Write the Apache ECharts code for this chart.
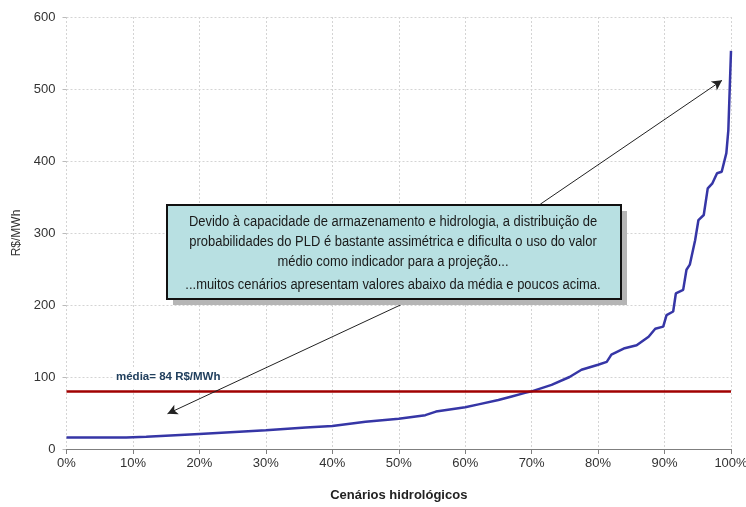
<!DOCTYPE html>
<html>
<head>
<meta charset="utf-8">
<script src="https://cdn.jsdelivr.net/npm/echarts@6/dist/echarts.min.js"></script>
<style>
  html, body { margin: 0; padding: 0; background: #fff; }
  #main { width: 746px; height: 507px; }
</style>
</head>
<body>
<div id="main"></div>
<script>
// cenarios hidrologicos (% acumulado) x PLD (R$/MWh)
var cenarios = [0, 9, 12, 20, 30, 36, 40, 45, 50, 54, 55.6, 60, 62, 65, 67, 69, 70, 73, 75.7, 77.5, 80, 81.3, 82, 84, 85.8, 87.6, 88.6, 89.8, 90.3, 91.3, 91.7, 92.8, 93.3, 93.8, 94.6, 95.1, 95.9, 96.5, 97.2, 97.9, 98.6, 99.3, 99.6, 99.85, 100];
var pld = [16, 16, 17, 21, 26, 30, 32, 38, 42, 47, 52, 58, 62, 68, 73, 78, 80, 89, 100, 110, 117, 121, 131, 140, 144, 156, 167, 170, 186, 191, 216, 221, 249, 256, 290, 318, 325, 362, 369, 383, 385, 411, 443, 512, 553];
var media = 80;
var xTicks = [0, 10, 20, 30, 40, 50, 60, 70, 80, 90, 100];

var font = '"Liberation Sans", Arial, sans-serif';

var curva = cenarios.map(function (c, i) { return [c, pld[i]]; });

var myChart = echarts.init(document.getElementById('main'));

function linha(txt, y) {
    return {
        type: 'text', x: 393, y: y, scaleX: 0.925,
        style: { text: txt, font: '14px ' + font, fill: '#1a1a1a', align: 'center', verticalAlign: 'middle' },
        z: 22
    };
}

myChart.setOption({
    animation: false,
    backgroundColor: '#fff',
    grid: { left: 66.5, right: 15, top: 17, bottom: 58, outerBoundsMode: 'none', containLabel: false },
    xAxis: {
        type: 'value',
        min: xTicks[0],
        max: xTicks[xTicks.length - 1],
        interval: 10,
        name: 'Cenários hidrológicos',
        nameLocation: 'middle',
        nameGap: 40,
        nameTextStyle: { fontFamily: font, fontSize: 13, fontWeight: 'bold', color: '#222' },
        axisLine: { lineStyle: { color: '#7f7f7f', width: 1 } },
        axisTick: { show: true, length: 5, lineStyle: { color: '#7f7f7f' } },
        axisLabel: { formatter: '{value}%', fontFamily: font, fontSize: 13, color: '#333', margin: 8 },
        splitLine: { show: true, lineStyle: { color: '#d4d4d4', type: [2, 2], width: 1 } }
    },
    yAxis: {
        type: 'value',
        min: 0,
        max: 600,
        interval: 100,
        name: 'R$/MWh',
        nameLocation: 'middle',
        nameRotate: 90,
        nameGap: 38,
        nameTextStyle: { fontFamily: font, fontSize: 12, color: '#333' },
        axisLine: { show: false },
        axisTick: { show: true, length: 4, lineStyle: { color: '#bbb' } },
        axisLabel: { fontFamily: font, fontSize: 13, color: '#333', margin: 11 },
        splitLine: { show: true, lineStyle: { color: '#d4d4d4', type: [2, 2], width: 1 } }
    },
    series: [
        {
            type: 'line',
            data: curva,
            showSymbol: false,
            lineStyle: { color: '#3636a6', width: 2.5 },
            z: 3,
            markLine: {
                silent: true,
                symbol: ['none', 'none'],
                label: { show: false },
                lineStyle: { color: '#a10000', width: 2.5, type: 'solid' },
                data: [{ yAxis: media }]
            }
        },
        {
            // setas da anotacao
            type: 'line',
            data: [],
            z: 4,
            markLine: {
                silent: true,
                symbol: ['none', 'arrow'],
                symbolSize: [8, 10],
                label: { show: false },
                lineStyle: { color: '#222', width: 1, type: 'solid' },
                data: [
                    [{ coord: [71.3, 340] }, { coord: [98.65, 512] }],
                    [{ coord: [52.8, 211] }, { coord: [15.2, 49] }]
                ]
            }
        }
    ],
    graphic: [
        {
            type: 'rect',
            left: 113, top: 368,
            shape: { width: 108, height: 19 },
            style: { fill: 'rgba(255,255,255,0.85)' },
            z: 10
        },
        {
            type: 'text',
            left: 116, top: 371,
            style: { text: 'média= 84 R$/MWh', font: 'bold 11.5px ' + font, fill: '#22405e' },
            z: 11
        },
        {
            type: 'rect',
            left: 173, top: 211,
            shape: { width: 454, height: 94 },
            style: { fill: '#b5b5b5' },
            z: 20
        },
        {
            type: 'rect',
            left: 166, top: 204,
            shape: { width: 454, height: 94 },
            style: { fill: '#b8e0e2', stroke: '#111', lineWidth: 2 },
            z: 21
        },
        linha('Devido à capacidade de armazenamento e hidrologia, a distribuição de', 222),
        linha('probabilidades do PLD é bastante assimétrica e dificulta o uso do valor', 242),
        linha('médio como indicador para a projeção...', 262),
        linha('...muitos cenários apresentam valores abaixo da média e poucos acima.', 285)
    ]
});
</script>
</body>
</html>
